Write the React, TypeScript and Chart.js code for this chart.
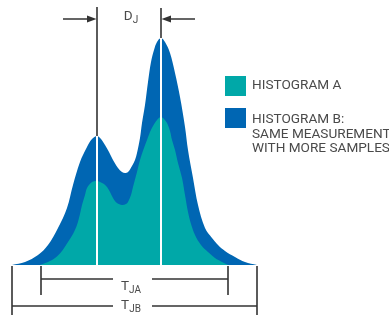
import React, { useEffect, useRef } from "react";
import { Chart, registerables } from "chart.js";

Chart.register(...registerables);

// Histogram B (more samples): x position and height above baseline
const xB = [12, 25, 38, 48, 58, 67, 73, 80, 87, 92, 97, 101, 105, 109, 113, 118, 122, 125, 128, 132, 135, 137, 140, 142, 145, 148, 151, 154, 157, 161, 165, 170, 175, 180, 185, 188, 193, 198, 205, 212, 218, 225, 235, 245, 257];
const hB = [0, 3, 10, 20, 37, 57, 80, 103, 118, 126, 129, 126, 120, 113, 105, 97, 93, 92, 93, 99, 105, 112, 127, 142, 160, 183, 203, 215, 223, 227, 223, 212, 192, 168, 138, 115, 87, 60, 37, 27, 20, 14, 8, 3, 0];

// Histogram A
const xA = [40, 48, 55, 62, 68, 73, 77, 80, 82, 85, 87, 92, 97, 100, 104, 107, 110, 113, 117, 122, 126, 128, 131, 133, 137, 140, 144, 147, 150, 153, 157, 161, 164, 167, 170, 172, 175, 178, 182, 185, 188, 191, 195, 201, 208, 215, 222, 228];
const hA = [0, 3, 7, 14, 23, 31, 40, 51, 60, 70, 77, 83, 84, 83, 81, 78, 73, 67, 62, 60, 61, 63, 70, 78, 93, 105, 117, 125, 133, 139, 145, 148, 146, 142, 134, 125, 115, 102, 87, 70, 53, 41, 30, 20, 13, 7, 3, 0];

const peaks = [97, 161];
const peakHeights = [129, 227];
const rangeA = [41, 228];
const rangeB = [12, 257];

const legendItems = [
  { color: "#00a8a8", lines: ["HISTOGRAM A"] },
  { color: "#0066b3", lines: ["HISTOGRAM B:", "SAME MEASUREMENT", "WITH MORE SAMPLES"] },
];

const TEAL = "#00a8a8";
const BLUE = "#0066b3";
const INK = "#333333";
const TEXT = "#4a4a4a";
const FONT = "Roboto, 'Liberation Sans', Arial, sans-serif";

const annotations = {
  id: "annotations",
  afterDatasetsDraw(chart: any) {
    const ctx: CanvasRenderingContext2D = chart.ctx;
    const xs = chart.scales.x;
    const ys = chart.scales.y;
    const px = (v: number) => xs.getPixelForValue(v);
    const py = (v: number) => ys.getPixelForValue(v);
    ctx.save();

    // white lines at peaks
    ctx.strokeStyle = "#ffffff";
    ctx.lineWidth = 2;
    peaks.forEach((p, i) => {
      ctx.beginPath();
      ctx.moveTo(px(p), py(0));
      ctx.lineTo(px(p), py(peakHeights[i]));
      ctx.stroke();
    });

    // black lines above peaks
    ctx.strokeStyle = INK;
    ctx.lineWidth = 1.6;
    const tops = [258, 257];
    peaks.forEach((p, i) => {
      ctx.beginPath();
      ctx.moveTo(px(p), py(peakHeights[i]));
      ctx.lineTo(px(p), py(tops[i]));
      ctx.stroke();
    });

    // D_J arrows
    const ay = py(246);
    ctx.lineWidth = 1.4;
    ctx.beginPath();
    ctx.moveTo(px(63), ay);
    ctx.lineTo(px(peaks[0]) - 6, ay);
    ctx.moveTo(px(peaks[1]) + 6, ay);
    ctx.lineTo(px(195), ay);
    ctx.stroke();
    ctx.fillStyle = INK;
    ctx.beginPath();
    ctx.moveTo(px(peaks[0]) - 0.5, ay);
    ctx.lineTo(px(peaks[0]) - 10, ay - 3.5);
    ctx.lineTo(px(peaks[0]) - 10, ay + 3.5);
    ctx.closePath();
    ctx.fill();
    ctx.beginPath();
    ctx.moveTo(px(peaks[1]) + 0.5, ay);
    ctx.lineTo(px(peaks[1]) + 10, ay - 3.5);
    ctx.lineTo(px(peaks[1]) + 10, ay + 3.5);
    ctx.closePath();
    ctx.fill();

    const label = (main: string, sub: string, cx: number, cy: number) => {
      ctx.fillStyle = TEXT;
      ctx.textBaseline = "alphabetic";
      ctx.textAlign = "left";
      ctx.font = `13.5px ${FONT}`;
      const w1 = ctx.measureText(main).width;
      ctx.font = `10px ${FONT}`;
      const w2 = ctx.measureText(sub).width;
      const x0 = cx - (w1 + w2) / 2;
      ctx.font = `13.5px ${FONT}`;
      ctx.fillText(main, x0, cy);
      ctx.font = `10px ${FONT}`;
      ctx.fillText(sub, x0 + w1, cy + 3);
    };
    label("D", "J", px(131), py(245));

    // brackets
    ctx.strokeStyle = INK;
    ctx.lineWidth = 1.6;
    const bracket = (r: number[], tickBottom: number, lineH: number) => {
      ctx.beginPath();
      ctx.moveTo(px(r[0]), py(-1));
      ctx.lineTo(px(r[0]), py(tickBottom));
      ctx.moveTo(px(r[1]), py(-1));
      ctx.lineTo(px(r[1]), py(tickBottom));
      ctx.moveTo(px(r[0]), py(lineH));
      ctx.lineTo(px(113), py(lineH));
      ctx.moveTo(px(152), py(lineH));
      ctx.lineTo(px(r[1]), py(lineH));
      ctx.stroke();
    };
    bracket(rangeA, -30, -14);
    bracket(rangeB, -50, -41);
    label("T", "JA", px(131), py(-25));
    label("T", "JB", px(131), py(-44));

    // legend
    legendItems.forEach((item, i) => {
      const sy = i === 0 ? 76 : 108;
      ctx.fillStyle = item.color;
      ctx.fillRect(225, sy, 21, 20);
      ctx.fillStyle = TEXT;
      ctx.font = `13.6px ${FONT}`;
      ctx.textBaseline = "middle";
      ctx.textAlign = "left";
      item.lines.forEach((ln, j) => {
        ctx.fillText(ln, 252, sy + 10 + (i === 0 ? 0 : 2) + j * 14.3);
      });
    });
    ctx.restore();
  },
};

export default function App() {
  const ref = useRef<HTMLCanvasElement>(null);
  useEffect(() => {
    if (!ref.current) return;
    const chart = new Chart(ref.current, {
      type: "line",
      data: {
        datasets: [
          {
            label: "Histogram A",
            data: xA.map((x, i) => ({ x, y: hA[i] })),
            backgroundColor: TEAL,
            borderColor: TEAL,
            borderWidth: 0,
            pointRadius: 0,
            fill: "origin",
            tension: 0.35,
            order: 1,
          },
          {
            label: "Histogram B",
            data: xB.map((x, i) => ({ x, y: hB[i] })),
            backgroundColor: BLUE,
            borderColor: BLUE,
            borderWidth: 0,
            pointRadius: 0,
            fill: "origin",
            tension: 0.35,
            order: 2,
          },
        ],
      },
      options: {
        animation: false,
        responsive: false,
        maintainAspectRatio: false,
        layout: { padding: 0 },
        plugins: { legend: { display: false }, tooltip: { enabled: false } },
        events: [],
        scales: {
          x: { type: "linear", min: 0, max: 389, display: false },
          y: { type: "linear", min: -53, max: 265, display: false },
        },
      },
      plugins: [annotations],
    });
    return () => chart.destroy();
  }, []);
  return (
    <div style={{ position: "absolute", left: 0, top: 0, width: 389, height: 318, background: "#fff" }}>
      <canvas ref={ref} width={389} height={318} />
    </div>
  );
}
